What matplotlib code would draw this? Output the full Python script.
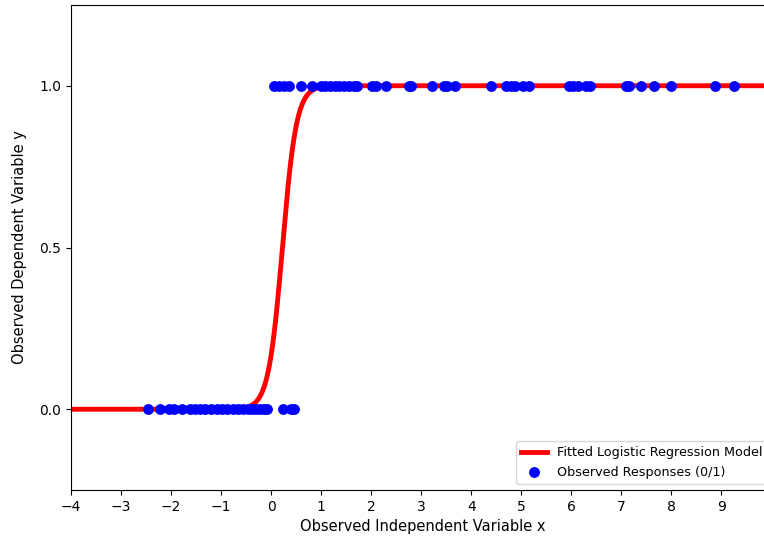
import numpy as np
from matplotlib import pyplot as plt

x_zero = [-2.47, -2.22, -2.04, -1.95, -1.78, -1.62, -1.52, -1.42, -1.32, -1.2,
          -1.08, -0.98, -0.88, -0.76, -0.66, -0.56, -0.46, -0.38, -0.3, -0.22,
          -0.14, -0.08, 0.24, 0.4, 0.46]
x_one = [0.06, 0.16, 0.26, 0.36, 0.6, 0.82, 1.0, 1.08, 1.18, 1.28, 1.36, 1.46,
         1.56, 1.66, 1.72, 2.02, 2.1, 2.3, 2.76, 2.8, 3.22, 3.46, 3.52, 3.68,
         4.4, 4.7, 4.8, 4.88, 5.04, 5.16, 5.96, 6.04, 6.14, 6.3, 6.38, 7.1,
         7.16, 7.4, 7.66, 8.0, 8.88, 9.26]

# fitted model parameters
b0 = -1.6
b1 = 7.1
x_min, x_max = -4, 10.05

x_fit = np.linspace(x_min, x_max, 500)
y_fit = 1 / (1 + np.exp(-(b0 + b1 * x_fit)))

fig = plt.figure(figsize=(7.64, 5.41), dpi=100)
ax = fig.add_axes([0.093, 0.094, 0.92, 0.897])

ax.plot(x_fit, y_fit, color='red', lw=3.5, label='Fitted Logistic Regression Model')
ax.scatter(x_zero + x_one, [0] * len(x_zero) + [1] * len(x_one), color='blue', s=46,
           zorder=3, label='Observed Responses (0/1)')

ax.set_xlim(x_min, x_max)
ax.set_ylim(-0.25, 1.25)
ax.set_xticks(range(-4, 10))
ax.set_yticks([0, 0.5, 1.0])
ax.tick_params(labelsize=10)
ax.set_xlabel('Observed Independent Variable x', fontsize=10.5)
ax.set_ylabel('Observed Dependent Variable y', fontsize=10.5, labelpad=9)
ax.legend(loc='lower right', fontsize=9.2)

plt.savefig('out.png', dpi=100)
